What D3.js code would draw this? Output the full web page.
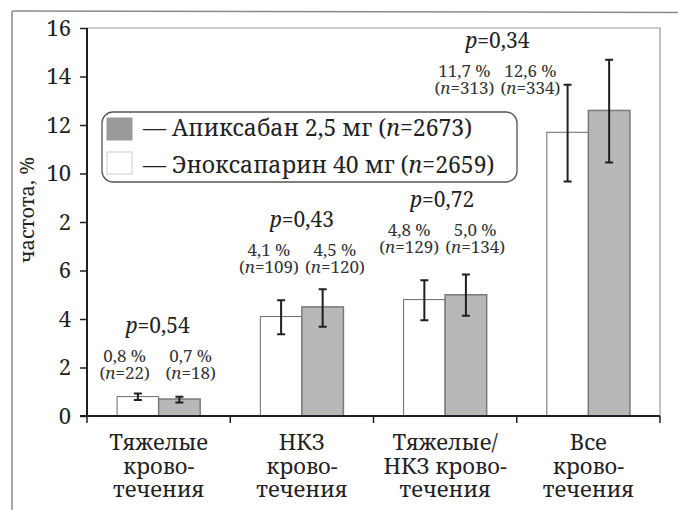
<!DOCTYPE html>
<html><head><meta charset="utf-8">
<script src="https://cdn.jsdelivr.net/npm/d3@7"></script>
<style>
html,body{margin:0;padding:0;background:#fff;}
svg{display:block;}
</style></head>
<body>
<svg id="chart" width="678" height="510"></svg>
<script>
// ---- data ----
const categories = ["Тяжелые кровотечения","НКЗ кровотечения","Тяжелые/НКЗ кровотечения","Все кровотечения"];
const categoryLines = [["Тяжелые","крово-","течения"],["НКЗ","крово-","течения"],["Тяжелые/","НКЗ крово-","течения"],["Все","крово-","течения"]];
const enoxValues = [0.8, 4.1, 4.8, 11.7];
const apixValues = [0.7, 4.5, 5.0, 12.6];
const enoxLow  = [0.66, 3.37, 3.95, 9.67];
const enoxHigh = [0.93, 4.77, 5.60, 13.66];
const apixLow  = [0.56, 3.68, 4.13, 10.45];
const apixHigh = [0.79, 5.23, 5.84, 14.69];
const enoxN = [22, 109, 129, 313];
const apixN = [18, 120, 134, 334];
const pValues = [0.54, 0.43, 0.72, 0.34];
const yTickValues = [0, 2, 4, 6, 8, 10, 12, 14, 16];
const yTickLabels = ["0", "2", "4", "6", "2", "10", "12", "14", "16"];
const seriesNames = ["Апиксабан 2,5 мг", "Эноксапарин 40 мг"];
const seriesTotals = [2673, 2659];
// annotation layout (level in axis units, horizontal shift in px)
const annotLevel = [3.42, 7.79, 8.62, 15.18];
const annotShift = [-1, 0, -3, -91];

// ---- layout ----
const FONT = "Noto Serif";
const svg = d3.select("#chart").attr("font-family", FONT);
const L = 87, R = 660, T = 28, B = 416;
const comma = v => String(v).replace(".", ",");

const y = d3.scaleLinear().domain([0, 16]).range([B, T]);
const x0 = d3.scaleBand().domain(categories).range([L, R]).paddingInner(0.42).paddingOuter(0.21);
const x1 = d3.scaleBand().domain(["enox", "apix"]).range([0, x0.bandwidth()]);
const center = c => x0(c) + x0.bandwidth() / 2;

// outer frame (scan border)
svg.append("line").attr("x1", 12).attr("y1", 11).attr("x2", 12).attr("y2", 510).attr("stroke", "#8a8a8a").attr("stroke-width", 1.5);
svg.append("line").attr("x1", 12).attr("y1", 11).attr("x2", 678).attr("y2", 12.5).attr("stroke", "#8a8a8a").attr("stroke-width", 1.5);

// plot frame top/right
svg.append("path").attr("d", `M${L},${T}H${R}V${B}`).attr("fill", "none").attr("stroke", "#9a9a9a").attr("stroke-width", 1.2);

// bars
const rows = categories.map((c, i) => ({c, i}));
const g = svg.append("g");
rows.forEach(r => {
  const bx = x0(r.c);
  g.append("rect").attr("x", bx + x1("enox")).attr("y", y(enoxValues[r.i]))
    .attr("width", x1.bandwidth()).attr("height", y(0) - y(enoxValues[r.i]))
    .attr("fill", "#fff").attr("stroke", "#6a6a6a").attr("stroke-width", 1);
  g.append("rect").attr("x", bx + x1("apix")).attr("y", y(apixValues[r.i]))
    .attr("width", x1.bandwidth()).attr("height", y(0) - y(apixValues[r.i]))
    .attr("fill", "#b8b8b8").attr("stroke", "#7a7a7a").attr("stroke-width", 1.5);
});

// error bars
function errBar(cx, lo, hi) {
  const cap = 4;
  g.append("path")
    .attr("d", `M${cx},${y(lo)}V${y(hi)}M${cx - cap},${y(lo)}H${cx + cap}M${cx - cap},${y(hi)}H${cx + cap}`)
    .attr("fill", "none").attr("stroke", "#1e1e28").attr("stroke-width", 2);
}
rows.forEach(r => {
  const bx = x0(r.c);
  errBar(bx + x1("enox") + x1.bandwidth() / 2, enoxLow[r.i], enoxHigh[r.i]);
  errBar(bx + x1("apix") + x1.bandwidth() / 2, apixLow[r.i], apixHigh[r.i]);
});

// axes
const yAxis = d3.axisLeft(y).tickValues(yTickValues).tickSize(7).tickPadding(9)
  .tickFormat((d, i) => yTickLabels[i]);
const ya = svg.append("g").attr("transform", `translate(${L},0)`).call(yAxis)
  .attr("font-family", FONT).attr("font-size", 22);
ya.select(".domain").attr("stroke", "#1e1e28").attr("stroke-width", 2).attr("d", `M0,${T}V${B}`);
ya.selectAll(".tick line").attr("stroke", "#1e1e28").attr("stroke-width", 1.5);
ya.selectAll(".tick text").attr("fill", "#222");

// x axis line + separator ticks
svg.append("line").attr("x1", L - 7).attr("x2", R).attr("y1", B).attr("y2", B).attr("stroke", "#1e1e28").attr("stroke-width", 2);
const gap = (x0.step() - x0.bandwidth()) / 2;
const seps = categories.map(c => x0(c) - gap).concat([x0(categories[categories.length - 1]) + x0.bandwidth() + gap]);
svg.selectAll(".sep").data(seps).enter().append("line")
  .attr("x1", d => d).attr("x2", d => d).attr("y1", B).attr("y2", B + 7)
  .attr("stroke", "#1e1e28").attr("stroke-width", 1.5);

// x labels
rows.forEach(r => {
  const t = svg.append("text").attr("text-anchor", "middle").attr("font-size", 22).attr("fill", "#222");
  categoryLines[r.i].forEach((ln, k) => {
    t.append("tspan").attr("x", center(r.c)).attr("y", 450 + k * 23.5).text(ln);
  });
});

// y title
svg.append("text").attr("transform", "translate(34,210) rotate(-90)").attr("text-anchor", "middle")
  .attr("font-size", 20).attr("fill", "#222").text("частота, %");

// annotations
function italicLabel(sel, pre, it, post) {
  sel.append("tspan").text(pre);
  sel.append("tspan").attr("font-style", "italic").text(it);
  sel.append("tspan").text(post);
}
rows.forEach(r => {
  const cx = center(r.c) + annotShift[r.i];
  const by = y(annotLevel[r.i]);
  const p = svg.append("text").attr("x", cx).attr("y", by).attr("text-anchor", "middle").attr("font-size", 21).attr("fill", "#222");
  italicLabel(p, "", "p", "=" + comma(pValues[r.i]));
  [[-33, enoxValues[r.i], enoxN[r.i]], [33, apixValues[r.i], apixN[r.i]]].forEach(([dx, v, n]) => {
    svg.append("text").attr("x", cx + dx).attr("y", by + 29).attr("text-anchor", "middle")
      .attr("font-size", 17).attr("fill", "#333").text(comma(v.toFixed(1)) + " %");
    const nt = svg.append("text").attr("x", cx + dx).attr("y", by + 46).attr("text-anchor", "middle")
      .attr("font-size", 17).attr("fill", "#333");
    italicLabel(nt, "(", "n", "=" + n + ")");
  });
});

// legend
const lg = svg.append("g");
lg.append("rect").attr("x", 102).attr("y", 112).attr("width", 415).attr("height", 70).attr("rx", 11)
  .attr("fill", "#fff").attr("stroke", "#555").attr("stroke-width", 1.3);
const swatchFill = ["#999", "#fff"];
const swatchStroke = ["#999", "#ccc"];
seriesNames.forEach((s, i) => {
  lg.append("rect").attr("x", 107).attr("y", 118 + i * 34).attr("width", 25).attr("height", 22)
    .attr("fill", swatchFill[i]).attr("stroke", swatchStroke[i]);
  const t = lg.append("text").attr("x", 143).attr("y", 136 + i * 37).attr("font-size", 23).attr("fill", "#222");
  italicLabel(t, "— " + s + " (", "n", "=" + seriesTotals[i] + ")");
});
</script>
</body></html>
